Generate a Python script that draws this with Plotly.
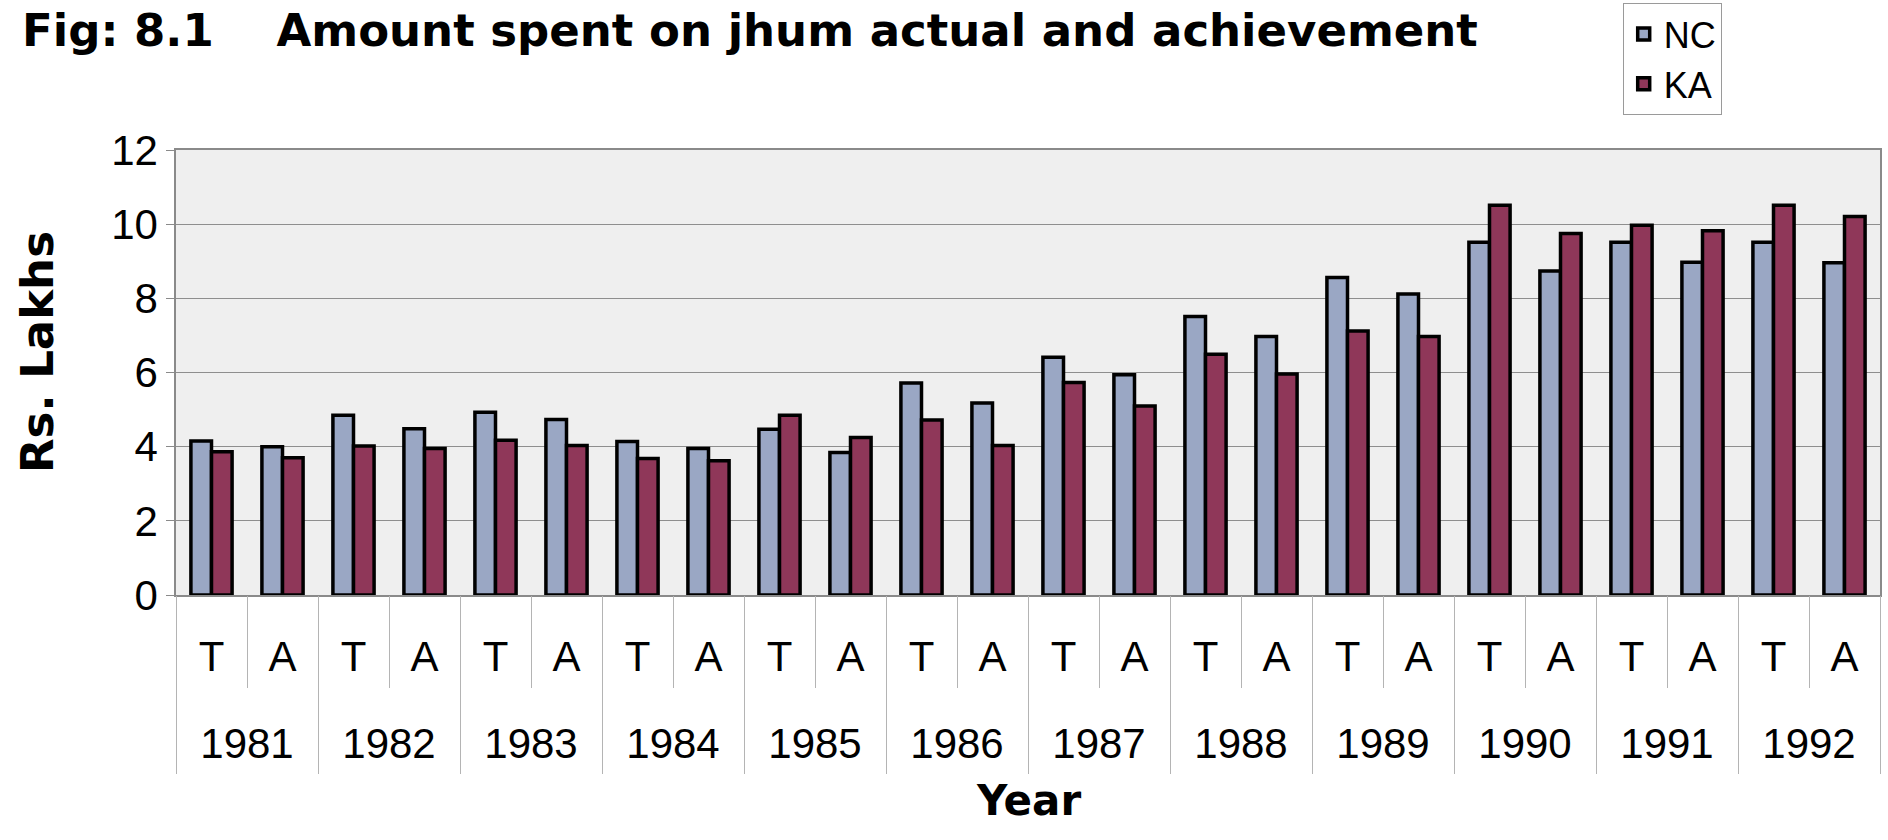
import plotly.graph_objects as go

# Categories: each year has a target (T) and an achievement (A) column
years = ["1981", "1982", "1983", "1984", "1985", "1986",
         "1987", "1988", "1989", "1990", "1991", "1992"]
phases = ["T", "A"]

# Amount spent (Rs. Lakhs), ordered 1981-T, 1981-A, 1982-T, ...
nc = [4.15, 4.00, 4.85, 4.48, 4.93, 4.73, 4.14, 3.95, 4.47, 3.84, 5.72, 5.18,
      6.41, 5.94, 7.51, 6.97, 8.56, 8.12, 9.51, 8.74, 9.51, 8.97, 9.51, 8.96]
ka = [3.86, 3.70, 4.02, 3.95, 4.17, 4.03, 3.68, 3.62, 4.85, 4.25, 4.72, 4.03,
      5.73, 5.10, 6.49, 5.96, 7.12, 6.97, 10.51, 9.75, 9.97, 9.82, 10.51, 10.21]

n_phase = len(phases)
n_cat = len(years) * n_phase
pos = list(range(n_cat))
phase_labels = [phases[i % n_phase] for i in pos]
year_centers = [k * n_phase + (n_phase - 1) / 2 for k in range(len(years))]
inner_bounds = [k * n_phase + 0.5 for k in range(len(years))]
year_bounds = [k * n_phase - 0.5 for k in range(len(years) + 1)]
xr = [-0.5, n_cat - 0.5]

REG = "Liberation Sans, Arial, sans-serif"
BOLD = "DejaVu Sans, Arial, sans-serif"
GRID = "#8e8e8e"
SEP = "#b4b4b4"

fig = go.Figure()
fig.add_trace(go.Bar(x=pos, y=nc, name="NC",
                     marker=dict(color="#9aa7c4", line=dict(color="black", width=3.5))))
fig.add_trace(go.Bar(x=pos, y=ka, name="KA",
                     marker=dict(color="#8f3759", line=dict(color="black", width=3.5))))

# carrier traces for the extra label / separator axes
for ax in ["x2", "x3", "x4"]:
    fig.add_trace(go.Scatter(x=[], y=[], xaxis=ax, yaxis="y",
                             showlegend=False, hoverinfo="skip"))

common = dict(range=xr, showgrid=False, zeroline=False, fixedrange=True)

fig.update_layout(
    width=1888, height=840,
    margin=dict(l=176, r=8, t=150, b=245, autoexpand=False),
    paper_bgcolor="white",
    plot_bgcolor="#efefef",
    barmode="group", bargap=0.42, bargroupgap=0,
    title=dict(
        text="<b>Fig: 8.1\u00a0\u00a0\u00a0\u00a0Amount spent on jhum actual and achievement</b>",
        font=dict(family=BOLD, size=45, color="black"),
        x=22 / 1888, xanchor="left", xref="container",
        y=1 - 30 / 840, yanchor="middle", yref="container"),
    legend=dict(
        x=0.849, xanchor="left", y=1.33, yanchor="top",
        font=dict(family=REG, size=36, color="black"),
        bgcolor="white", bordercolor="#9a9a9a", borderwidth=1,
        tracegroupgap=0),
    xaxis=dict(
        **common,
        tickmode="array", tickvals=pos, ticktext=phase_labels,
        ticks="outside", ticklen=24, tickcolor="rgba(0,0,0,0)",
        tickfont=dict(family=REG, size=42, color="black"),
        showline=True, linecolor="#8a8a8a", linewidth=1.5, mirror=True),
    xaxis2=dict(
        **common, overlaying="x", anchor="y", side="bottom",
        tickmode="array", tickvals=inner_bounds, showticklabels=False,
        ticks="outside", ticklen=92, tickcolor=SEP, tickwidth=1),
    xaxis3=dict(
        **common, overlaying="x", anchor="y", side="bottom",
        tickmode="array", tickvals=year_bounds, showticklabels=False,
        ticks="outside", ticklen=178, tickcolor=SEP, tickwidth=1),
    xaxis4=dict(
        **common, overlaying="x", anchor="y", side="bottom",
        tickmode="array", tickvals=year_centers, ticktext=years,
        ticks="outside", ticklen=112, tickcolor="rgba(0,0,0,0)",
        tickfont=dict(family=REG, size=42, color="black")),
    yaxis=dict(
        range=[0, 12], tickmode="linear", tick0=0, dtick=2,
        ticks="outside", ticklen=8, tickcolor="#8a8a8a",
        tickfont=dict(family=REG, size=42, color="black"),
        showgrid=True, gridcolor=GRID, gridwidth=1.2, zeroline=False,
        showline=True, linecolor="#8a8a8a", linewidth=1.5, mirror=True,
        fixedrange=True),
    annotations=[
        dict(text="<b>Rs. Lakhs</b>", textangle=-90,
             x=-0.0813, y=0.547, xref="paper", yref="paper",
             xanchor="center", yanchor="middle", showarrow=False,
             font=dict(family=BOLD, size=45, color="black")),
        dict(text="<b>Year</b>",
             x=0.5, y=-0.4618, xref="paper", yref="paper",
             xanchor="center", yanchor="middle", showarrow=False,
             font=dict(family=BOLD, size=42, color="black")),
    ],
)

fig.write_html("out.html")
